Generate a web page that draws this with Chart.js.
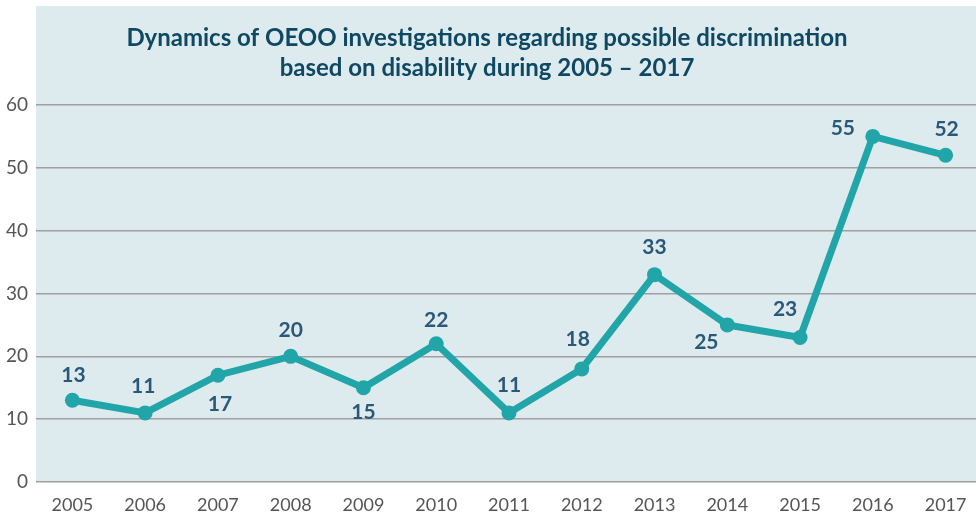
<!DOCTYPE html>
<html>
<head>
<meta charset="utf-8">
<script src="https://cdn.jsdelivr.net/npm/chart.js@4.4.1/dist/chart.umd.min.js"></script>
<style>
html,body{margin:0;padding:0;background:#fff;}
#wrap{width:976px;height:515px;position:relative;}
</style>
</head>
<body>
<div id="wrap"><canvas id="c" width="976" height="515"></canvas></div>
<script>
const years = ['2005','2006','2007','2008','2009','2010','2011','2012','2013','2014','2015','2016','2017'];
const investigations = [13, 11, 17, 20, 15, 22, 11, 18, 33, 25, 23, 55, 52];
const titleLines = ['Dynamics of OEOO investigations regarding possible discrimination', 'based on disability during 2005 \u2013 2017'];
const yTicks = [0, 10, 20, 30, 40, 50, 60];

// label placement offsets (style, not data)
const labelOffsets = [[1,-25],[-2,-27],[2,29],[0,-26],[0,24],[0,-24],[0,-28],[-4,-30],[0,-27],[-21,17],[-15,-28],[-30,-8],[1,-26]];

const bgPlugin = {
  id: 'bg',
  afterLayout(chart) {
    const xs = chart.scales.x;
    const extra = 6;
    xs.right += extra;
    xs.width += extra;
    xs.configure();
    chart.chartArea.right += extra;
    chart.chartArea.width += extra;
  },
  beforeDraw(chart) {
    const {ctx, chartArea} = chart;
    ctx.save();
    ctx.fillStyle = '#deebee';
    ctx.fillRect(chartArea.left, 6, chart.width - chartArea.left, chartArea.bottom - 6);
    ctx.fillStyle = '#0e4862';
    ctx.font = 'bold 24px Lato';
    ctx.textAlign = 'center';
    ctx.textBaseline = 'alphabetic';
    ctx.fillText(titleLines[0], 487, 46);
    ctx.fillText(titleLines[1], 487, 76);
    ctx.restore();
  }
};

const labelPlugin = {
  id: 'vals',
  afterDatasetsDraw(chart) {
    const {ctx} = chart;
    const meta = chart.getDatasetMeta(0);
    ctx.save();
    ctx.fillStyle = '#2a5878';
    ctx.font = 'bold 21px Lato';
    ctx.textAlign = 'center';
    ctx.textBaseline = 'middle';
    meta.data.forEach((pt, i) => {
      const o = labelOffsets[i];
      ctx.fillText(String(investigations[i]), pt.x + o[0], pt.y + o[1]);
    });
    ctx.restore();
  }
};

new Chart(document.getElementById('c'), {
  type: 'line',
  data: {
    labels: years,
    datasets: [{
      data: investigations,
      borderColor: '#22a5a8',
      backgroundColor: '#22a5a8',
      borderWidth: 7,
      pointRadius: 7.5,
      pointHoverRadius: 7.5,
      pointBackgroundColor: '#22a5a8',
      pointBorderWidth: 0,
      tension: 0,
      clip: false
    }]
  },
  options: {
    responsive: false,
    animation: false,
    events: [],
    layout: { autoPadding: false, padding: { top: 105, right: 0, left: 0, bottom: 0 } },
    plugins: { legend: { display: false }, title: { display: false }, tooltip: { enabled: false } },
    scales: {
      x: {
        offset: true,
        grid: { display: false, drawTicks: false },
        border: { display: false },
        ticks: { color: '#555', font: { family: 'Lato', size: 18 }, padding: 12, maxRotation: 0, autoSkip: false },
        afterFit(s) { s.height = 33; s.paddingLeft = 0; s.paddingRight = 0; }
      },
      y: {
        min: 0, max: 60,
        afterBuildTicks(s) { s.ticks = yTicks.map(v => ({ value: v })); },
        grid: { color: '#a0a0a0', lineWidth: 1.5, drawTicks: false },
        border: { display: false },
        ticks: { color: '#555', font: { family: 'Lato', size: 19 }, padding: 8 },
        afterFit(s) { s.width = 36; }
      }
    }
  },
  plugins: [bgPlugin, labelPlugin]
});
</script>
</body>
</html>
